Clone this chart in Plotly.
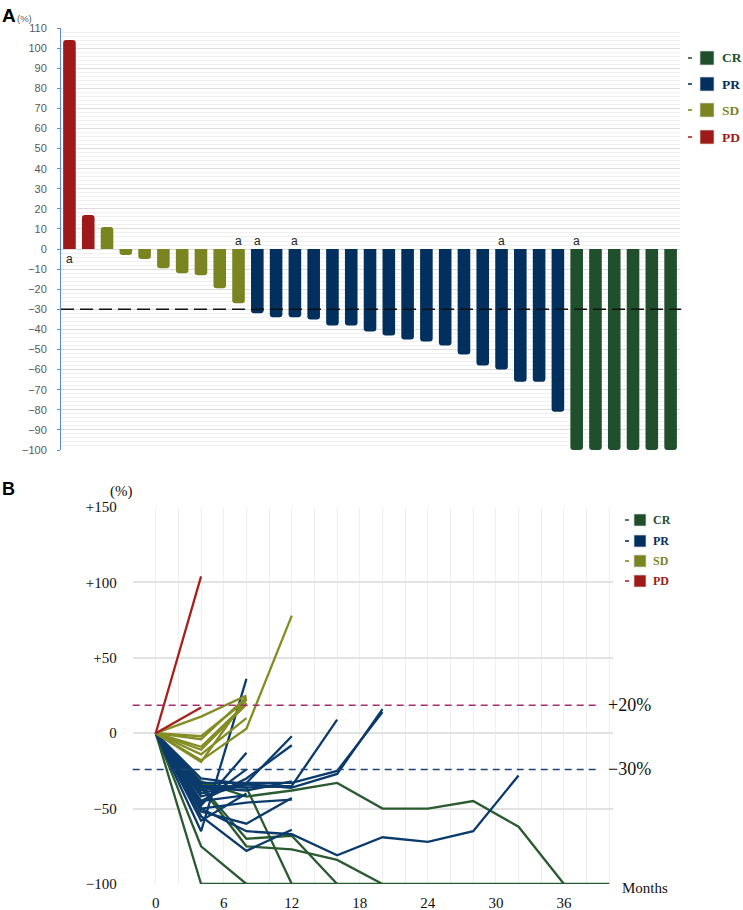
import plotly.graph_objects as go

# ---------------- Panel A data (waterfall, best % change) ----------------
PD_VALUES = [104, 17]
SD_VALUES = [11, -3, -5, -9.5, -12, -13, -19.5, -27]
PR_VALUES = [-32, -34, -34, -35, -38, -38, -41, -43, -45, -46, -48, -52.5, -58, -60, -66, -66, -81]
CR_VALUES = [-100, -100, -100, -100, -100, -100]
# patients flagged with "a" (index in the overall order, 0-based)
A_FLAG_INDEX = [0, 9, 10, 12, 23, 27]
A_TICKS = list(range(-100, 111, 10))
THRESH_A = -30

# ---------------- Panel B data (spider plot) ----------------
MONTHS = [0, 4, 8, 12, 16, 20, 24, 28, 32, 36, 40]
PD_SERIES = [
    [0, 104],
    [0, 17],
]
SD_SERIES = [
    [0, 11, 25],
    [0, -2, 22],
    [0, -4, 24],
    [0, -9, 20],
    [0, -11, 19],
    [0, -14, 10],
    [0, -18, 3, 78],
    [0, -19, 23],
]
PR_SERIES = [
    [0, -48, -13],
    [0, -46, -24],
    [0, -65, 36],
    [0, -40, -33, -2],
    [0, -45, -30, -8],
    [0, -35, -36, -35, 9],
    [0, -30, -34, -36, -27, 16],
    [0, -33, -33, -33, -25, 14],
    [0, -52, -60, -43],
    [0, -50, -46, -44],
    [0, -55, -78, -64],
    [0, -50, -65, -67, -81, -69, -72, -65, -28],
    [0, -42, -34, -36],
    [0, -36, -38, -32],
    [0, -45, -41],
    [0, -38, -34],
    [0, -58, -40],
]
CR_SERIES = [
    [0, -100, -100, -100, -100, -100, -100, -100, -100, -100, -100],
    [0, -75, -100],
    [0, -34, -36, -100],
    [0, -35, -70, -68, -100],
    [0, -36, -75, -77, -84, -100],
    [0, -32, -42, -38, -33, -50, -50, -45, -62, -100],
]
Y_TICKS_B = [-100, -50, 0, 50, 100, 150]
Y_TEXT_B = ["\u2212100", "\u221250", "0", "+50", "+100", "+150"]
X_TICKS_B = list(range(0, 41, 2))
X_TEXT_B = [str(m) if m % 6 == 0 and m <= 36 else "" for m in X_TICKS_B]
UP_LINE_B = 18.5     # drawn position of the +20% line
DOWN_LINE_B = -24    # drawn position of the -30% line

# ---------------- styles ----------------
C_CR = "#1f4f2b"
C_PR = "#02305e"
C_SD = "#7a8421"
C_PD = "#9e1a18"
L_CR = "#2a5a30"
L_PR = "#0b3b6c"
L_SD = "#838d24"
L_PD = "#a8201c"
W, H = 743, 910

def px_x(p):
    return p / W

def px_y(p):
    return 1 - p / H

fig = go.Figure()

# ----- Panel A bars -----
all_vals = PD_VALUES + SD_VALUES + PR_VALUES + CR_VALUES
all_cols = ([C_PD] * len(PD_VALUES) + [C_SD] * len(SD_VALUES)
            + [C_PR] * len(PR_VALUES) + [C_CR] * len(CR_VALUES))
idx = list(range(len(all_vals)))
fig.add_trace(go.Bar(x=idx, y=all_vals, marker=dict(color=all_cols, line=dict(width=0)),
                     xaxis="x", yaxis="y", showlegend=False, hoverinfo="y"))

for i in A_FLAG_INDEX:
    v = all_vals[i]
    if v > 0:
        fig.add_annotation(x=i, y=0, xref="x", yref="y", text="a", showarrow=False,
                           yshift=-10, font=dict(family="Arial", size=12, color="#222"))
    else:
        fig.add_annotation(x=i, y=0, xref="x", yref="y", text="a", showarrow=False,
                           yshift=8, font=dict(family="Arial", size=12, color="#222"))

fig.add_shape(type="line", xref="x domain", yref="y", x0=0, x1=1.002, y0=THRESH_A, y1=THRESH_A,
              line=dict(color="#111", width=1.5, dash="13px,6px"))

# ----- Panel B lines -----
def add_group(series, color):
    for s in series:
        fig.add_trace(go.Scatter(x=MONTHS[:len(s)], y=s, mode="lines",
                                 line=dict(color=color, width=2.3),
                                 xaxis="x2", yaxis="y2", showlegend=False, hoverinfo="skip"))

add_group(CR_SERIES, L_CR)
add_group(PR_SERIES, L_PR)
add_group(SD_SERIES, L_SD)
add_group(PD_SERIES, L_PD)

fig.add_shape(type="line", xref="x2 domain", yref="y2", x0=0, x1=0.973, y0=UP_LINE_B, y1=UP_LINE_B,
              line=dict(color="#a3306c", width=1.5, dash="7px,5px"))
fig.add_shape(type="line", xref="x2 domain", yref="y2", x0=0, x1=0.973, y0=DOWN_LINE_B, y1=DOWN_LINE_B,
              line=dict(color="#1f4577", width=1.5, dash="7px,5px"))

serif = "Liberation Serif, Times New Roman, serif"

def note(xp, yp, text, font, xanchor="left", yref="paper"):
    fig.add_annotation(x=px_x(xp), y=(px_y(yp) if yref == "paper" else yp), xref="paper", yref=yref,
                       text=text, showarrow=False, xanchor=xanchor, yanchor="middle", font=font)

note(606, UP_LINE_B, "+20%", dict(family=serif, size=18, color="#111"), yref="y2")
note(606, DOWN_LINE_B, "\u221230%", dict(family=serif, size=18, color="#111"), yref="y2")
note(620, 888, "Months", dict(family=serif, size=15, color="#111"))

# ----- titles / units -----
note(0, 15, "<b>A</b>", dict(family="Arial", size=19, color="#000"))
note(0, 489, "<b>B</b>", dict(family="Arial", size=18, color="#000"))
note(24, 18, "(%)", dict(family="Arial", size=9.5, color="#595959"), xanchor="center")
note(121, 492, "(%)", dict(family=serif, size=15, color="#111"), xanchor="center")

# ----- legends (drawn) -----
LEG_LABELS = ["CR", "PR", "SD", "PD"]
LEG_COLS = [C_CR, C_PR, C_SD, C_PD]
LEG_DASH = ["#5a7a5f", "#3b5a80", "#9aa24a", "#c0504d"]

def legend(x_dash, x_sq, sq, x_txt, ys, fsize):
    for lab, col, dc, yy in zip(LEG_LABELS, LEG_COLS, LEG_DASH, ys):
        fig.add_shape(type="line", xref="paper", yref="paper",
                      x0=px_x(x_dash), x1=px_x(x_dash + 4), y0=px_y(yy), y1=px_y(yy),
                      line=dict(color=dc, width=2))
        fig.add_shape(type="rect", xref="paper", yref="paper",
                      x0=px_x(x_sq), x1=px_x(x_sq + sq), y0=px_y(yy - sq / 2), y1=px_y(yy + sq / 2),
                      fillcolor=col, line=dict(color="#d9d9d9", width=0.7))
        note(x_txt, yy, "<b>%s</b>" % lab, dict(family=serif, size=fsize, color=col))

legend(688, 700, 14, 720, [58, 84, 110, 137], 13.5)
legend(625, 634, 12, 651, [520, 541, 561, 581], 12)

fig.update_layout(
    width=W, height=H, margin=dict(l=0, r=0, t=0, b=0, autoexpand=False),
    paper_bgcolor="white", plot_bgcolor="white",
    bargap=0.33, barcornerradius=3,
    xaxis=dict(domain=[px_x(61), px_x(680)], range=[-0.45, 32.5], showgrid=False,
               showticklabels=False, zeroline=False, ticks="", showline=False,
               automargin=False),
    yaxis=dict(domain=[px_y(450), px_y(28)], range=[-100, 110], tickvals=A_TICKS,
               showgrid=True, gridcolor="#dcdcdc", gridwidth=1,
               minor=dict(dtick=2, showgrid=True, gridcolor="#f0f0f0", gridwidth=1),
               zeroline=False, showline=True, linecolor="#5b8bd6", linewidth=1,
               ticks="outside", ticklen=3, tickcolor="#5b8bd6",
               ticklabelstandoff=8, automargin=False,
               tickfont=dict(family="Arial", size=11, color="#595959")),
    xaxis2=dict(domain=[px_x(132.7), px_x(612.7)], range=[-2.03, 40.3],
                tickvals=X_TICKS_B, ticktext=X_TEXT_B, showgrid=True,
                gridcolor="#efefef", gridwidth=1, zeroline=False, showline=False,
                ticks="", ticklabelstandoff=8, automargin=False,
                tickfont=dict(family=serif, size=15, color="#111"), anchor="y2"),
    yaxis2=dict(domain=[px_y(884), px_y(507)], range=[-100, 150], tickvals=Y_TICKS_B,
                ticktext=Y_TEXT_B, showgrid=True, gridcolor="#e2e2e2", gridwidth=1.5,
                zeroline=False, showline=False, ticks="", ticklabelstandoff=15,
                automargin=False,
                tickfont=dict(family=serif, size=15, color="#111"), anchor="x2"),
)

fig.write_html("out.html", config={"displayModeBar": False},
               post_script="document.body.style.margin='0';document.body.style.padding='0';")
